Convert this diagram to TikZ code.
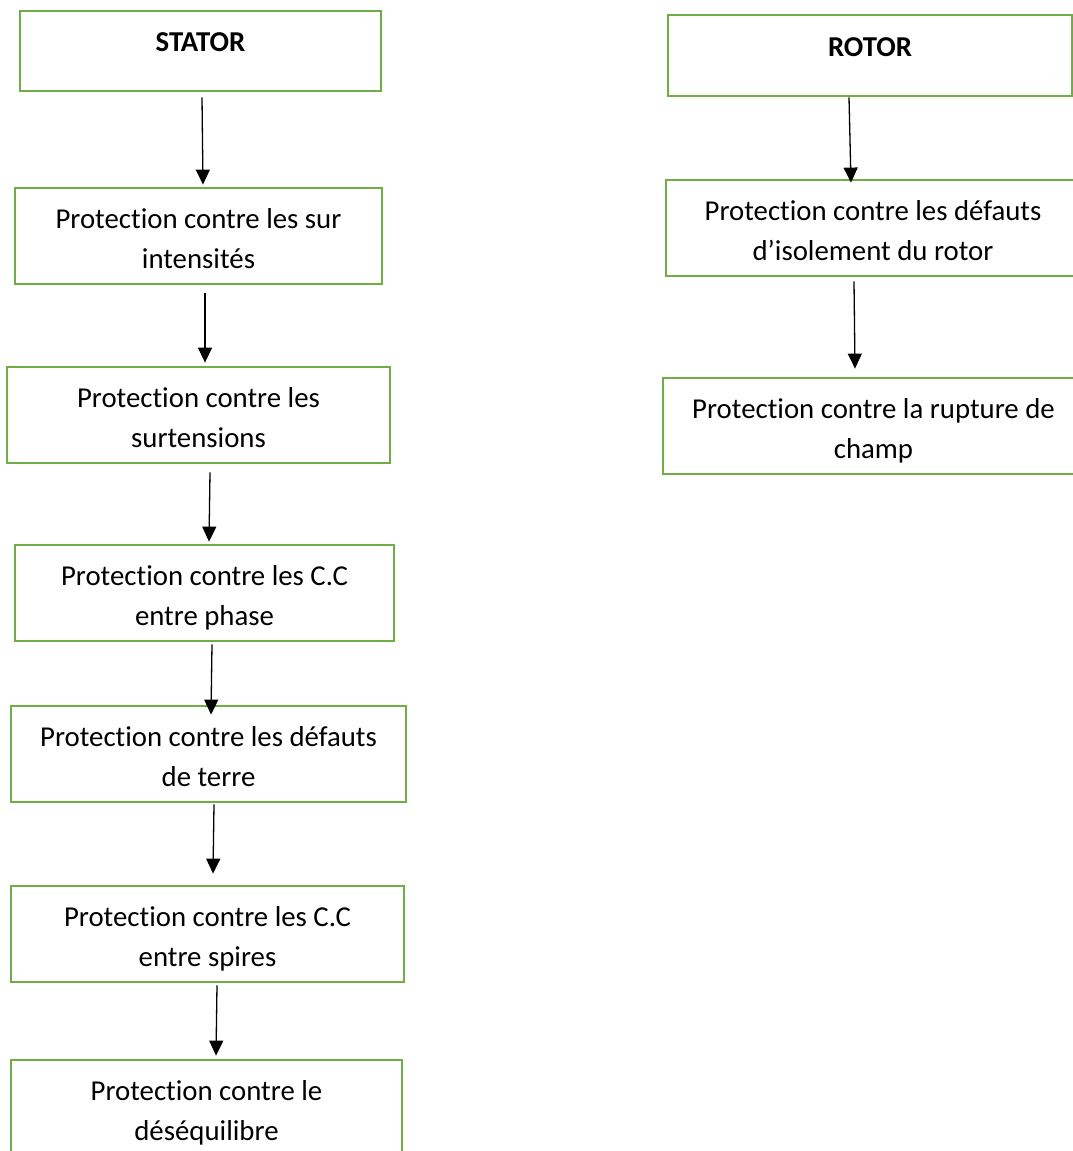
\documentclass[tikz,border=0pt]{standalone}
\usepackage{fontspec}
\setmainfont[Ligatures=NoCommon,RawFeature={-clig;-calt}]{Carlito}
\usetikzlibrary{arrows.meta,calc}
\definecolor{boxgreen}{HTML}{70AD47}
\newcommand{\boxtxt}[1]{\raisebox{-4pt}[\height][\depth]{\begin{tabular}{@{}c@{}}#1\end{tabular}}}
\newcommand{\headtxt}[1]{\raisebox{8.5pt}[\height][\depth]{\textbf{#1}}}
\tikzset{
  box/.style={draw=boxgreen, line width=2.8pt, fill=white, inner sep=0pt, align=center,
    font=\fontsize{28.8}{40}\selectfont},
  arr/.style={line width=1.3pt, -{Triangle[width=14pt,length=15pt]}}
}
\begin{document}
\begin{tikzpicture}[x=1pt,y=-1pt]
\useasboundingbox (0,0) rectangle (1073,1151);
\clip (0,0) rectangle (1073,1151);
\fill[white] (0,0) rectangle (1073,1151);
% stator column
\node[box, minimum width=361, minimum height=80] (s0) at (200.5,51) {\headtxt{STATOR}};
\node[box, minimum width=367, minimum height=96] (s1) at (198.5,236) {\boxtxt{Protection contre les sur\\intensités}};
\node[box, minimum width=383, minimum height=96] (s2) at (198.5,415) {\boxtxt{Protection contre les\\surtensions}};
\node[box, minimum width=379, minimum height=96] (s3) at (204.5,593) {\boxtxt{Protection contre les C.C\\entre phase}};
\node[box, minimum width=395, minimum height=96] (s4) at (208.5,754) {\boxtxt{Protection contre les défauts\\de terre}};
\node[box, minimum width=393, minimum height=96] (s5) at (207.5,934) {\boxtxt{Protection contre les C.C\\entre spires}};
\node[box, minimum width=391, minimum height=96] (s6) at (206.5,1108) {\boxtxt{Protection contre le\\déséquilibre}};
% rotor column
\node[box, minimum width=404, minimum height=81] (r0) at (870,55.5) {\headtxt{ROTOR}};
\node[box, minimum width=414, minimum height=96] (r1) at (873,228) {\boxtxt{Protection contre les défauts\\d’isolement du rotor}};
\node[box, minimum width=421, minimum height=96] (r2) at (873.5,426) {\boxtxt{Protection contre la rupture de\\champ}};
% arrows
\draw[arr] ($(s0.south)+(1.5,5)$) -- ($(s1.north)+(4.5,-2)$);
\draw[arr] ($(s1.south)+(6.5,8)$) -- ($(s2.north)+(6.5,-3)$);
\draw[arr] ($(s2.south)+(11.5,8)$) -- ($(s3.north)+(4.5,-2)$);
\draw[arr] ($(s3.south)+(7.5,2)$) -- ($(s4.north)+(2.5,10)$);
\draw[arr] ($(s4.south)+(5.5,1)$) -- ($(s5.north)+(5.5,-11)$);
\draw[arr] ($(s5.south)+(9.5,2)$) -- ($(s6.north)+(9.5,-3)$);
\draw[arr] ($(r0.south)+(-21,0)$) -- ($(r1.north)+(-22,4)$);
\draw[arr] ($(r1.south)+(-19,4)$) -- ($(r2.north)+(-18.5,-8)$);
\end{tikzpicture}
\end{document}
